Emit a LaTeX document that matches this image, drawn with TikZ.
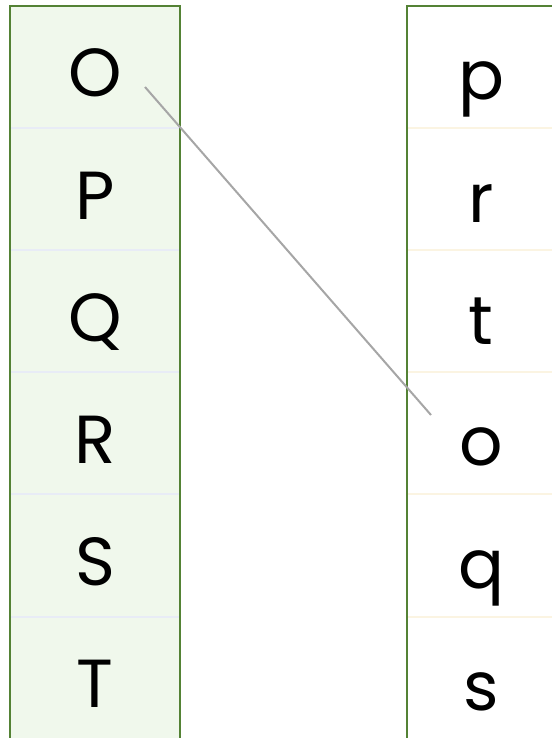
\documentclass[tikz,border=0pt]{standalone}
\usepackage{fontspec}
\setmainfont{Poppins}
\definecolor{colgreen}{HTML}{548235}
\definecolor{leftfill}{HTML}{F0F8EC}
\definecolor{leftsep}{HTML}{E8ECF6}
\definecolor{rightsep}{HTML}{FBF4E2}
\definecolor{linkgray}{HTML}{A6A6A6}
\tikzset{
  letter/.style={anchor=base, inner sep=0pt, font=\fontsize{68}{80}\selectfont},
  border/.style={draw=colgreen, line width=2pt},
}
\begin{document}
\begin{tikzpicture}[x=1pt,y=-1pt]
\useasboundingbox (0,0) rectangle (551,738);
% left column
\fill[leftfill] (10,6) rectangle (180,745);
\foreach \yy in {128,250,372,494,617}{\draw[leftsep, line width=1.2pt] (11,\yy) -- (181,\yy);}
\draw[border] (10,745) -- (10,6) -- (180,6) -- (180,745);
% right column
\foreach \yy in {128,250,372,494,617}{\draw[rightsep, line width=1.2pt] (408,\yy) -- (555,\yy);}
\draw[border] (407,745) -- (407,6) -- (560,6);
% letters left
\node[letter] (L1) at (95,97) {O};
\node[letter] (L2) at (95,219) {P};
\node[letter] (L3) at (95,341) {Q};
\node[letter] (L4) at (95,463) {R};
\node[letter] (L5) at (95,585) {S};
\node[letter] (L6) at (95,707) {T};
% letters right
\node[letter] (R1) at (481,100) {p};
\node[letter] (R2) at (481,222) {r};
\node[letter] (R3) at (481,344) {t};
\node[letter] (R4) at (481,465) {o};
\node[letter] (R5) at (481,588) {q};
\node[letter] (R6) at (481,710) {s};
% link
\coordinate (ls) at (145,87);
\coordinate (le) at (431,415);
\draw[linkgray, line width=2pt] (ls) -- (le);
\end{tikzpicture}
\end{document}
